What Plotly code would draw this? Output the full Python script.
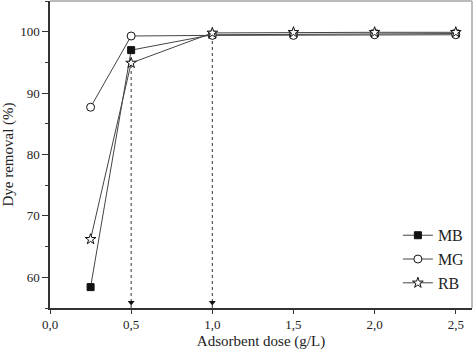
import plotly.graph_objects as go

dose = [0.25, 0.5, 1.0, 1.5, 2.0, 2.5]
mb = [58.4, 97.0, 99.5, 99.6, 99.7, 99.7]
mg = [87.7, 99.3, 99.4, 99.4, 99.5, 99.5]
rb = [66.2, 94.9, 99.8, 99.9, 99.9, 99.9]

arrow_x = [0.5, 1.0]
arrow_top = [94.9, 99.4]
y_floor = 55

FONT = "Liberation Serif, Times New Roman, serif"
LINE = "#444444"
TXT = "#222222"

fig = go.Figure()
for name, ys, sym, fill, size in [
    ("MB", mb, "square", "#111111", 7),
    ("MG", mg, "circle", "white", 8),
    ("RB", rb, "star", "white", 8),
]:
    fig.add_trace(go.Scatter(
        x=dose, y=ys, name=name, mode="lines+markers",
        line=dict(color=LINE, width=1),
        marker=dict(symbol=sym, size=size, color=fill,
                    line=dict(color="#111111", width=1)),
    ))

for xv, yt in zip(arrow_x, arrow_top):
    fig.add_shape(type="line", x0=xv, x1=xv, y0=y_floor, y1=yt,
                  line=dict(color="#333333", width=1, dash="dot"), layer="below")

fig.add_trace(go.Scatter(
    x=arrow_x, y=[y_floor + 0.9] * len(arrow_x), mode="markers",
    marker=dict(symbol="triangle-down", size=6, color="#111111"),
    showlegend=False, hoverinfo="skip", cliponaxis=False,
))

# gray top/right frame
fig.add_shape(type="line", xref="paper", yref="paper", x0=0, x1=1, y0=1, y1=1,
              line=dict(color="#bbbbbb", width=2))
fig.add_shape(type="line", xref="paper", yref="paper", x0=1, x1=1, y0=0, y1=1,
              line=dict(color="#bbbbbb", width=2))

fig.update_layout(
    width=474, height=351,
    margin=dict(l=50, r=2, t=1, b=43),
    paper_bgcolor="white", plot_bgcolor="white",
    font=dict(family=FONT, color=TXT, size=13),
    separators=", ",
    legend=dict(x=0.995, y=0.025, xanchor="right", yanchor="bottom",
                font=dict(size=16, family=FONT, color=TXT), bgcolor="rgba(0,0,0,0)",
                itemwidth=30, tracegroupgap=0),
    xaxis=dict(range=[0, 2.6], tick0=0, dtick=0.5, tickformat=".1f",
               showgrid=False, zeroline=False, showline=True,
               linecolor="#333333", linewidth=1.5,
               ticks="outside", ticklen=4, tickcolor="#333333",
               tickfont=dict(size=13, family=FONT, color=TXT),
               title=dict(text="Adsorbent dose (g/L)", font=dict(size=15, family=FONT, color=TXT), standoff=4)),
    yaxis=dict(range=[55, 105], tick0=60, dtick=10,
               showgrid=False, zeroline=False, showline=True,
               linecolor="#333333", linewidth=1.5,
               ticks="outside", ticklen=6, tickcolor="#333333",
               minor=dict(tick0=55, dtick=5, ticks="outside", ticklen=3, tickcolor="#333333"),
               tickfont=dict(size=13, family=FONT, color=TXT),
               title=dict(text="Dye removal (%)", font=dict(size=15, family=FONT, color=TXT), standoff=4)),
)

fig.write_html("out.html")
